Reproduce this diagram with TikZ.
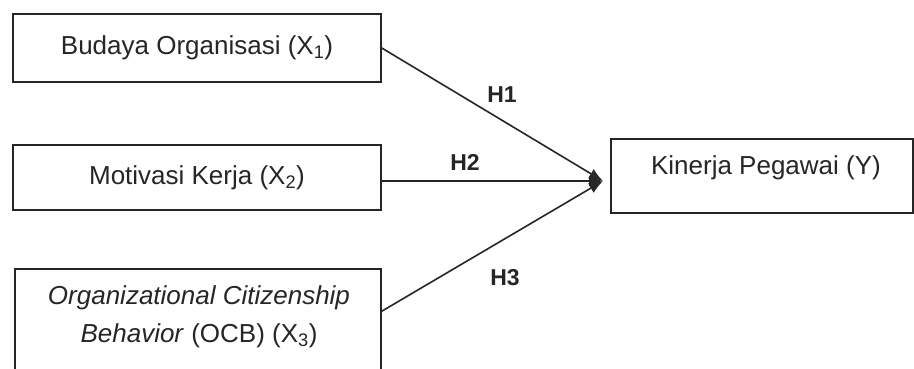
\documentclass[tikz,border=0pt]{standalone}
\usepackage{fontspec}
\setmainfont{Liberation Sans}
\usetikzlibrary{arrows.meta}
\begin{document}
\begin{tikzpicture}[x=1pt,y=-1pt,
  box/.style={draw=black!85, line width=1.6pt, rectangle, inner sep=0pt},
  txt/.style={font=\fontsize{26}{38}\selectfont, text=black!85, align=center, inner sep=0pt},
  hlab/.style={font=\fontsize{23}{26}\selectfont\bfseries, text=black!85, inner sep=0pt},
  conn/.style={line width=1.6pt, draw=black!85, -{Latex[length=14pt,width=11pt]}}]
\useasboundingbox (0,0) rectangle (914,369);
\fill[white] (0,0) rectangle (914,369);
% boxes
\node[box, txt, minimum width=368pt, minimum height=68pt] (x1) at (197,48) {Budaya Organisasi (X\textsubscript{1})};
\node[box, txt, minimum width=368pt, minimum height=65pt] (x2) at (197,177.5) {Motivasi Kerja (X\textsubscript{2})};
\node[box, minimum width=366pt, minimum height=130pt] (x3) at (198,334) {};
\node[txt] (x3t) at (199,317) {\textit{Organizational Citizenship}\\\textit{Behavior} (OCB) (X\textsubscript{3})};
\node[box, minimum width=302pt, minimum height=74pt] (y) at (762,176) {};
\node[txt] (yt) at (766,168) {Kinerja Pegawai (Y)};
% convergence point
\coordinate (t) at (603,181);
% connectors
\draw[conn] (x1.east) -- (t);
\draw[conn] (x2.east |- t) -- (t);
\draw[conn] ([yshift=-43pt]x3.north east) -- (t);
% hypothesis labels
\node[hlab] (h1) at (502,95) {H1};
\node[hlab] (h2) at (465,162) {H2};
\node[hlab] (h3) at (505,278) {H3};
\end{tikzpicture}
\end{document}
